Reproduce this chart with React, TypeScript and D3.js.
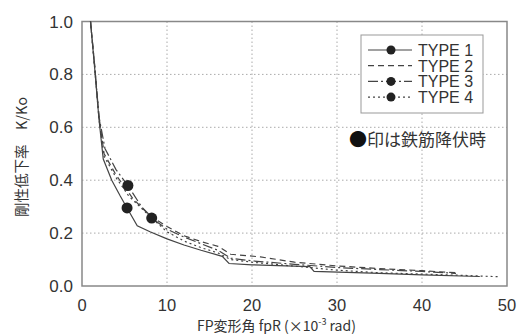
import React from "react";
import * as d3 from "d3";

// data (x: ×10^-3 rad, y: K/Ko)
const type1 = [[1.0, 1.0], [1.5, 0.82], [2.0, 0.63], [2.5, 0.48], [3.5, 0.4], [4.5, 0.34], [5.3, 0.295], [6.5, 0.228], [8, 0.205], [10, 0.178], [12, 0.155], [14, 0.135], [16.5, 0.112], [17.3, 0.085], [20, 0.08], [26.8, 0.073], [27.3, 0.055], [35, 0.048], [40, 0.042], [46.8, 0.036]];
const type2 = [[1.0, 1.0], [1.5, 0.83], [2.0, 0.64], [2.6, 0.5], [4, 0.42], [6, 0.33], [8, 0.265], [10, 0.225], [12, 0.19], [14, 0.168], [16, 0.15], [17.5, 0.12], [21, 0.11], [25, 0.09], [30, 0.076], [35, 0.066], [40, 0.058], [44, 0.05]];
const type3 = [[1.0, 1.0], [1.5, 0.83], [2.0, 0.64], [2.7, 0.52], [4, 0.44], [5.4, 0.38], [7, 0.3], [8.5, 0.25], [10, 0.215], [12, 0.185], [14, 0.16], [16, 0.135], [17.5, 0.105], [20, 0.095], [25, 0.082], [30, 0.07], [35, 0.062], [40, 0.055], [44, 0.048]];
const type4 = [[1.0, 1.0], [1.5, 0.82], [2.0, 0.63], [2.6, 0.49], [4, 0.41], [5.5, 0.34], [8.2, 0.257], [10, 0.205], [12, 0.17], [14, 0.145], [16, 0.125], [17.5, 0.1], [20, 0.09], [25, 0.075], [30, 0.06], [35, 0.05], [40, 0.045], [45, 0.04], [49, 0.035]];

// yield points (●)
const yieldPts = [[5.4, 0.38], [5.3, 0.295], [8.2, 0.257]];

const seriesNames = ["TYPE 1", "TYPE 2", "TYPE 3", "TYPE 4"];
const hasMarker = [true, false, true, true];
const dashes = ["none", "6,4", "10,3,2,3", "2,3"];
const xTicks = [0, 10, 20, 30, 40, 50];
const yTicks = [0, 0.2, 0.4, 0.6, 0.8, 1.0];

const W = 523, H = 334;
const left = 82, right = 507, top = 21.5, bottom = 286;

export default function App() {
  const x = d3.scaleLinear().domain([0, 50]).range([left, right]);
  const y = d3.scaleLinear().domain([0, 1]).range([bottom, top]);
  const line = d3.line<number[]>().x(d => x(d[0])).y(d => y(d[1]));
  const all = [type1, type2, type3, type4];
  const ink = "#444";
  const font = "'Liberation Sans', Arial, sans-serif";
  const jp = "'Noto Sans CJK JP', sans-serif";

  return (
    <svg width={W} height={H} style={{ position: "absolute", left: 0, top: 0, background: "#fff" }}>
      {/* grid */}
      {xTicks.slice(1, -1).map(t => (
        <line key={"gx" + t} x1={x(t)} x2={x(t)} y1={top} y2={bottom} stroke="#aaa" strokeDasharray="1.5,2.5" />
      ))}
      {yTicks.slice(1, -1).map(t => (
        <line key={"gy" + t} x1={left} x2={right} y1={y(t)} y2={y(t)} stroke="#aaa" strokeDasharray="1.5,2.5" />
      ))}
      <rect x={left} y={top} width={right - left} height={bottom - top} fill="none" stroke="#888" strokeWidth={1.5} />

      {/* ticks */}
      {xTicks.map(t => (
        <text key={"tx" + t} x={x(t)} y={311} textAnchor="middle" fontFamily={font} fontSize={16.5} fill="#333">{t}</text>
      ))}
      {yTicks.map(t => (
        <text key={"ty" + t} x={73} y={y(t) + 6} textAnchor="end" fontFamily={font} fontSize={17} fill="#333">{t.toFixed(1)}</text>
      ))}

      {/* curves */}
      {all.map((s, i) => (
        <path key={"s" + i} d={line(s) ?? ""} fill="none" stroke={ink} strokeWidth={1.2} strokeDasharray={dashes[i]} />
      ))}
      {yieldPts.map((p, i) => (
        <circle key={"m" + i} cx={x(p[0])} cy={y(p[1])} r={5.5} fill="#222" />
      ))}

      {/* legend */}
      <rect x={361} y={35} width={122} height={78} fill="#fff" stroke="#999" />
      {seriesNames.map((n, i) => {
        const ly = 50 + i * 15.7;
        return (
          <g key={n}>
            <line x1={368} x2={412} y1={ly} y2={ly} stroke={ink} strokeWidth={1.2} strokeDasharray={dashes[i]} />
            {hasMarker[i] && <circle cx={391} cy={ly} r={4.5} fill="#222" />}
            <text x={418} y={ly + 6} fontFamily={font} fontSize={16} fill="#333">{n}</text>
          </g>
        );
      })}
      <text x={349} y={146} fontFamily={jp} fontSize={17} fill="#333">
        <tspan fontSize={18} fill="#111">●</tspan>印は鉄筋降伏時
      </text>

      {/* axis labels */}
      <text x={197} y={331} fontFamily={jp} fontSize={14} fill="#333">
        FP変形角 fpR (×10<tspan dy={-6} fontSize={9}>-3</tspan><tspan dy={6}> rad)</tspan>
      </text>
      <text transform={`translate(27,157) rotate(-90)`} textAnchor="middle" fontFamily={jp} fontSize={14.5} fill="#333">
        剛性低下率　K/Ko
      </text>
    </svg>
  );
}
